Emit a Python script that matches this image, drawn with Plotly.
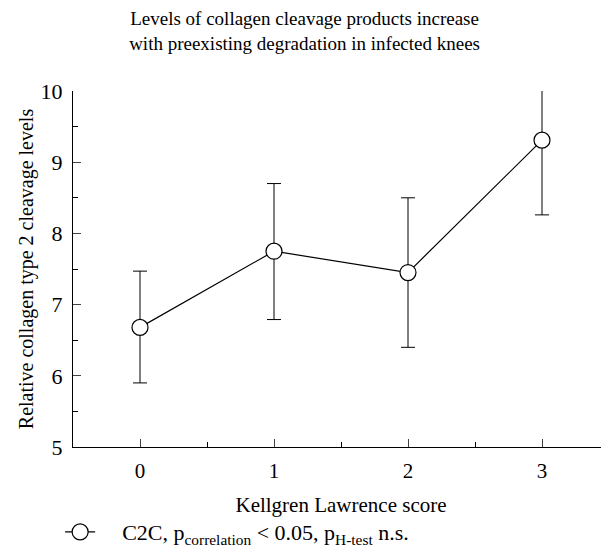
import plotly.graph_objects as go

kl_scores = [0, 1, 2, 3]
c2c_mean = [6.68, 7.75, 7.45, 9.31]
c2c_upper = [7.47, 8.70, 8.50, 10.37]
c2c_lower = [5.90, 6.79, 6.40, 8.26]

err_plus = [u - m for u, m in zip(c2c_upper, c2c_mean)]
err_minus = [m - l for m, l in zip(c2c_mean, c2c_lower)]

FONT = "Liberation Serif"
NB = "\u00a0"

fig = go.Figure()
fig.add_trace(go.Scatter(
    x=kl_scores, y=c2c_mean,
    mode="lines+markers",
    name=NB * 4 + "C2C, p<sub>correlation</sub> < 0.05, p<sub>H-test</sub> n.s.",
    line=dict(color="black", width=1.2),
    marker=dict(symbol="circle", size=16, color="white", line=dict(color="black", width=1.2)),
    error_y=dict(type="data", symmetric=False, array=err_plus, arrayminus=err_minus,
                 color="black", thickness=1, width=7),
    cliponaxis=False,
))

fig.update_layout(
    width=609, height=560,
    margin=dict(l=65, r=8, t=83, b=121),
    paper_bgcolor="white", plot_bgcolor="white",
    font=dict(family=FONT, size=20, color="black"),
    title=dict(text="Levels of collagen cleavage products increase<br>with preexisting degradation in infected knees",
               x=0.487, xanchor="center", y=0.969, yanchor="middle",
               font=dict(family=FONT, size=19)),
    xaxis=dict(range=[-0.5, 3.5], tickvals=kl_scores, ticks="inside", ticklen=8,
               showline=True, linecolor="black", linewidth=1.2, showgrid=False, zeroline=False,
               minor=dict(dtick=0.5, ticks="inside", ticklen=5, tickcolor="black"),
               ticklabelstandoff=5,
               title=dict(text="Kellgren Lawrence score", font=dict(size=21), standoff=15),
               tickfont=dict(size=21)),
    yaxis=dict(range=[5, 10], dtick=1, ticks="inside", ticklen=8,
               showline=True, linecolor="black", linewidth=1.2, showgrid=False, zeroline=False,
               minor=dict(dtick=0.5, ticks="inside", ticklen=5, tickcolor="black"),
               ticklabelstandoff=5,
               title=dict(text="Relative collagen type 2 cleavage levels", font=dict(size=20), standoff=1),
               tickfont=dict(size=22)),
    showlegend=True,
    legend=dict(orientation="h", x=-0.024, xanchor="left", y=-0.18, yanchor="top",
                font=dict(size=22), itemwidth=30, bgcolor="rgba(0,0,0,0)"),
)

fig.write_html("out.html")
